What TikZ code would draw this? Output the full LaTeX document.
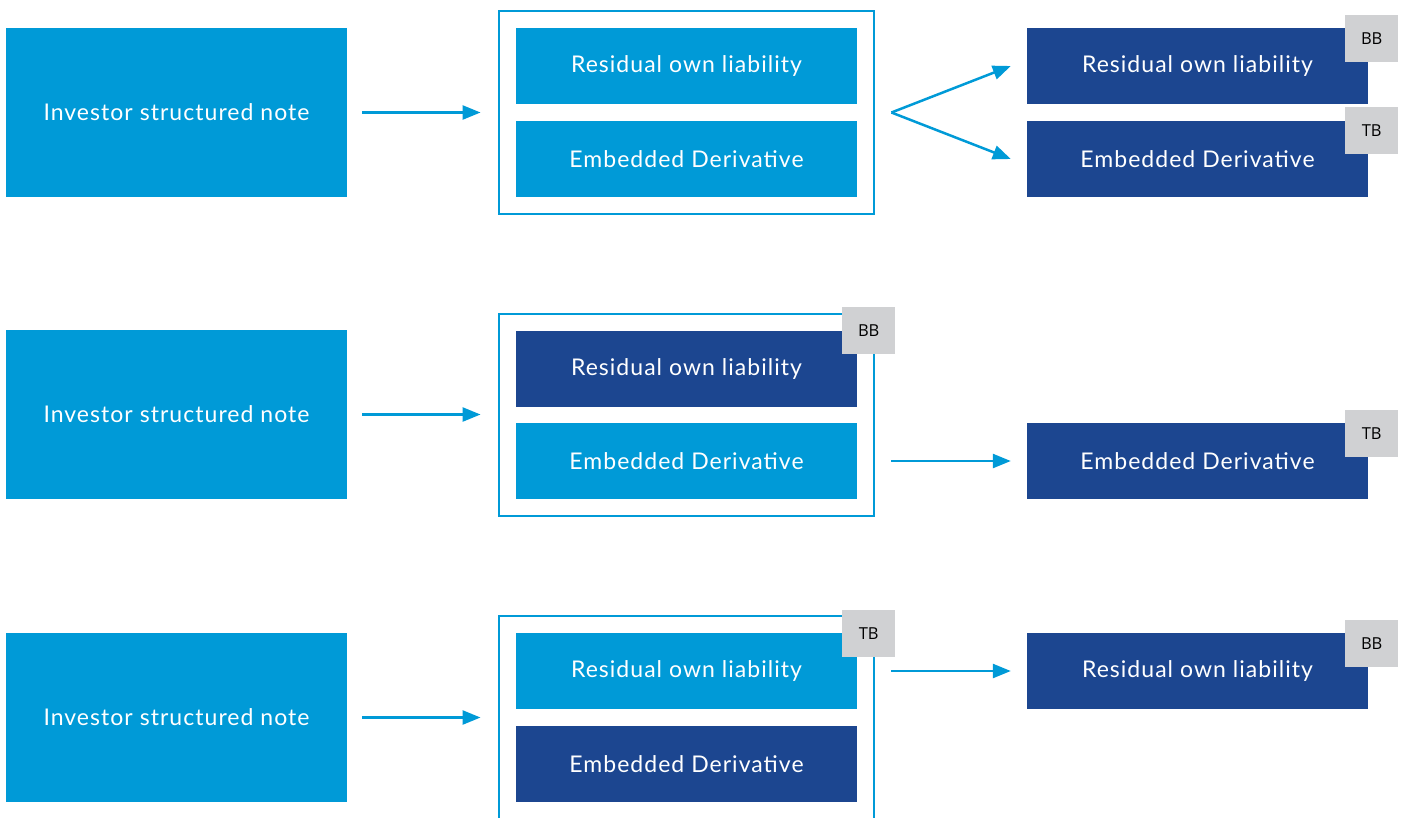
\documentclass[tikz,border=0pt]{standalone}
\usepackage{fontspec}
\setmainfont[LetterSpace=4.5]{Lato}
\newfontfamily\tagfont{Open Sans}
\usepackage{tikz}
\usetikzlibrary{arrows.meta}
\usetikzlibrary{calc}
\usetikzlibrary{positioning}
\usetikzlibrary{fit}
\definecolor{noteblue}{RGB}{0,154,215}
\definecolor{darkblue}{RGB}{28,70,144}
\definecolor{taggray}{RGB}{208,209,211}

\begin{document}
\begin{tikzpicture}[x=1pt, y=-1pt,
    box/.style={fill=noteblue, text=white, minimum width=341pt, minimum height=76pt, inner sep=0pt, font=\fontsize{23}{27}\selectfont},
    dbox/.style={box, fill=darkblue},
    note/.style={box, minimum height=169pt},
    frame/.style={draw=noteblue, line width=2.5pt, inner sep=17pt},
    tag/.style={fill=taggray, minimum width=53pt, minimum height=47pt, inner sep=0pt, font=\tagfont\fontsize{16.5}{19}\selectfont},
    flow/.style={-{Triangle[length=18pt,width=14pt]}, color=noteblue, line width=2.5pt, shorten <=15pt, shorten >=17pt}]
    \useasboundingbox (0,0) rectangle (1402,817);
    % row A
    \node[note] (nA) at (176.5,112.5) {Investor structured note};
    \node[box] (rA) at (686.5,66) {Residual own liability};
    \node[box] (eA) at (686.5,159) {Embedded Derivative};
    \node[frame, fit=(rA)(eA)] (fA) {};
    \node[dbox] (rA2) at (1197.5,66) {Residual own liability};
    \node[dbox] (eA2) at (1197.5,159) {Embedded Derivative};
    \node[tag] (tA1) at ($(rA2.north east)+(3.5,10.5)$) {BB};
    \node[tag] (tA2) at ($(eA2.north east)+(3.5,9.5)$) {TB};
    \coordinate (kA) at ($(fA.east)+(16,0)$);
    \coordinate (kA1) at ($(rA2.west)+(-16,0)$);
    \coordinate (kA2) at ($(eA2.west)+(-16,0)$);
    \draw [flow] (nA.east) -- (nA.east -| fA.west);
    \draw [flow, shorten <=0pt, shorten >=0pt] (kA) -- (kA1);
    \draw [flow, shorten <=0pt, shorten >=0pt] (kA) -- (kA2);
    % row B
    \node[note] (nB) at (176.5,414.5) {Investor structured note};
    \node[dbox] (rB) at (686.5,369) {Residual own liability};
    \node[box] (eB) at (686.5,461) {Embedded Derivative};
    \node[frame, fit=(rB)(eB)] (fB) {};
    \node[tag] (tB1) at ($(rB.north east)+(11.5,0)$) {BB};
    \node[dbox] (eB2) at (1197.5,461) {Embedded Derivative};
    \node[tag] (tB2) at ($(eB2.north east)+(3.5,10.5)$) {TB};
    \draw [flow] (nB.east) -- (nB.east -| fB.west);
    \draw [flow, shorten <=16pt, shorten >=16pt] (eB -| fB.east) -- (eB2.west);
    % row C
    \node[note] (nC) at (176.5,717.5) {Investor structured note};
    \node[box] (rC) at (686.5,671) {Residual own liability};
    \node[dbox] (eC) at (686.5,764) {Embedded Derivative};
    \node[frame, fit=(rC)(eC)] (fC) {};
    \node[tag] (tC1) at ($(rC.north east)+(11.5,0.5)$) {TB};
    \node[dbox] (rC2) at (1197.5,671) {Residual own liability};
    \node[tag] (tC2) at ($(rC2.north east)+(3.5,10.5)$) {BB};
    \draw [flow] (nC.east) -- (nC.east -| fC.west);
    \draw [flow, shorten <=16pt, shorten >=16pt] (rC -| fC.east) -- (rC2.west);
\end{tikzpicture}
\end{document}
